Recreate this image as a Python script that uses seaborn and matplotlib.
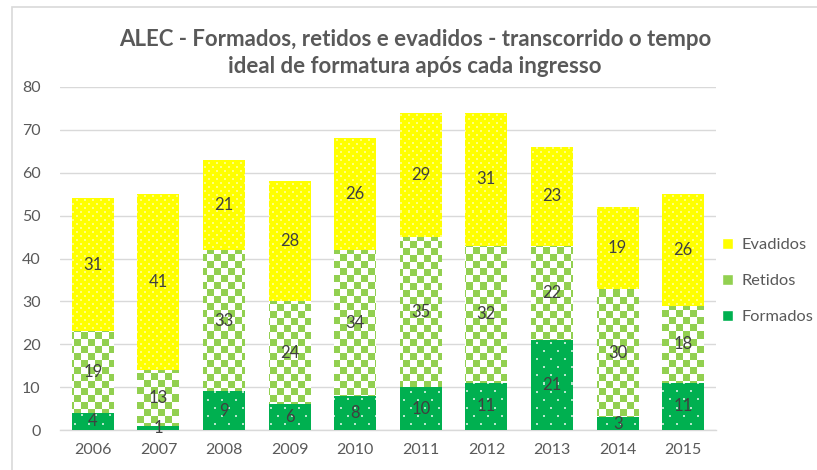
import numpy as np
import pandas as pd
import matplotlib
matplotlib.use("Agg")
import matplotlib.pyplot as plt
import seaborn as sns
from matplotlib.patches import Rectangle, Patch

anos = ["2006", "2007", "2008", "2009", "2010", "2011", "2012", "2013", "2014", "2015"]
formados = [4, 1, 9, 6, 8, 10, 11, 21, 3, 11]
retidos = [19, 13, 33, 24, 34, 35, 32, 22, 30, 18]
evadidos = [31, 41, 21, 28, 26, 29, 31, 23, 19, 26]
yticks = [0, 10, 20, 30, 40, 50, 60, 70, 80]
titulo = "ALEC - Formados, retidos e evadidos - transcorrido o tempo\nideal de formatura após cada ingresso"

YEL = "#FFFF00"
LGR = "#92D050"
DGR = "#00B050"
TXT = "#595959"
LBL = "#404040"

sns.set_theme(style="white")
plt.rcParams['font.family'] = ['Lato', 'DejaVu Sans']

W, H = 817, 470
fig = plt.figure(figsize=(W / 100, H / 100), dpi=100)
ax = fig.add_axes([60 / W, (H - 430) / H, 656 / W, 343 / H])

df = pd.DataFrame({"ano": anos, "F": formados, "R": retidos, "E": evadidos})
df["FR"] = df["F"] + df["R"]
df["T"] = df["FR"] + df["E"]

groups = []
for col, color, z in [("T", YEL, 2), ("FR", LGR, 4), ("F", DGR, 6)]:
    n0 = len(ax.patches)
    sns.barplot(data=df, x="ano", y=col, color=color, width=0.64, ax=ax,
                saturation=1, errorbar=None, linewidth=0, zorder=z)
    groups.append(ax.patches[n0:])

ax.set_xlim(-0.5, len(anos) - 0.5)
ax.set_ylim(0, 80)
ax.set_yticks(yticks)

fig.canvas.draw()
bb = ax.get_window_extent()
pw, ph = int(round(bb.width)), int(round(bb.height))
yy, xx = np.mgrid[0:ph, 0:pw]


def rgb(h):
    return np.array(matplotlib.colors.to_rgb(h))


def pattern(kind):
    img = np.ones((ph, pw, 3))
    if kind == "check":
        mask = ((xx // 7 + yy // 7) % 2) == 0
        img[mask] = rgb(LGR)
    elif kind == "ydots":
        img[:] = rgb(YEL)
        m = (((yy % 8) < 2) & ((xx % 8) < 2)) | ((((yy + 4) % 8) < 2) & (((xx + 4) % 8) < 2))
        img[m] = 0.5 * rgb(YEL) + 0.5 * np.ones(3)
    else:
        img[:] = rgb(DGR)
        m = (((yy % 16) < 2) & ((xx % 14) < 2)) | ((((yy + 8) % 16) < 2) & (((xx + 7) % 14) < 2))
        img[m] = 0.3 * rgb(DGR) + 0.7 * np.ones(3)
    return img


ext = (ax.get_xlim()[0], ax.get_xlim()[1], ax.get_ylim()[0], ax.get_ylim()[1])
for kind, patches, z in [("ydots", groups[0], 3), ("check", groups[1], 5), ("gdots", groups[2], 7)]:
    img = pattern(kind)
    for p in patches:
        im = ax.imshow(img, extent=ext, aspect="auto", interpolation="nearest", zorder=z)
        im.set_clip_path(p)

ax.set_xlim(-0.5, len(anos) - 0.5)
ax.set_ylim(0, 80)

for i in range(len(anos)):
    f, r, e = formados[i], retidos[i], evadidos[i]
    for val, ctr in [(f, f / 2), (r, f + r / 2), (e, f + r + e / 2)]:
        ax.text(i, ctr, str(val), ha="center", va="center", fontsize=12, color=LBL, zorder=10)

ax.yaxis.grid(True, color="#D9D9D9", lw=1)
ax.set_axisbelow(True)
for s in ["left", "right", "top"]:
    ax.spines[s].set_visible(False)
ax.spines["bottom"].set_color("#D9D9D9")
ax.spines["bottom"].set_linewidth(1)
ax.tick_params(axis="both", length=0, labelsize=11.5, labelcolor=TXT)
ax.tick_params(axis="y", pad=14)
ax.tick_params(axis="x", pad=9)
ax.set_xlabel("")
ax.set_ylabel("")

handles = [Patch(facecolor=YEL, label="Evadidos"),
           Patch(facecolor=LGR, label="Retidos"),
           Patch(facecolor=DGR, label="Formados")]
leg = fig.legend(handles=handles, loc="center left", bbox_to_anchor=(707 / W, 1 - 281 / H),
                 frameon=False, fontsize=11.8, handlelength=0.7, handleheight=0.7,
                 handletextpad=0.5, labelspacing=1.3)
for t in leg.get_texts():
    t.set_color(TXT)

fig.text(0.508, 1 - 53 / H, titulo, ha="center", va="center", fontsize=16,
         fontweight="bold", color=TXT, linespacing=1.3)

fig.add_artist(Rectangle((12 / W, -0.1), 1.0, (H - 7) / H + 0.1, transform=fig.transFigure,
                         fill=False, edgecolor="#D9D9D9", lw=1.2))

fig.savefig("out.png", dpi=100)
